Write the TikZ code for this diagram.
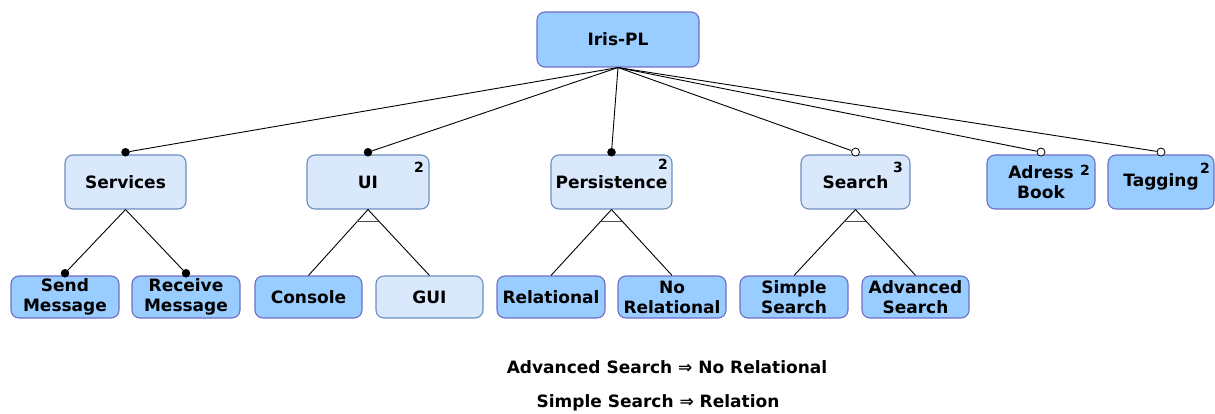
\documentclass[tikz,border=0pt]{standalone}
\usepackage{fontspec}
\setmainfont{DejaVu Sans}
\usetikzlibrary{calc,positioning}
\definecolor{darkfill}{HTML}{99CCFF}
\definecolor{darkdraw}{HTML}{6F6FC8}
\definecolor{lightfill}{HTML}{DAE8FC}
\definecolor{lightdraw}{HTML}{6C8EBF}
\tikzset{
  feat/.style={rounded corners=8pt, line width=1.1pt, align=center,
    font=\bfseries\fontsize{17}{20}\selectfont, inner sep=0pt},
  darkbox/.style={feat, fill=darkfill, draw=darkdraw},
  lightbox/.style={feat, fill=lightfill, draw=lightdraw},
  fdot/.style={circle, fill=black, draw=black, inner sep=0pt, minimum size=8pt},
  odot/.style={circle, fill=white, draw=black, line width=0.8pt, inner sep=0pt, minimum size=8pt},
  conn/.style={line width=0.9pt, black},
  altbar/.style={line width=1.8pt, black!70},
  card/.style={font=\bfseries\fontsize{14}{14}\selectfont, inner sep=0pt},
  cons/.style={font=\bfseries\fontsize{17}{20}\selectfont, inner sep=0pt},
}
\begin{document}
\begin{tikzpicture}[x=1pt,y=-1pt]
\useasboundingbox (0,0) rectangle (1215,414);
% root
\node[darkbox, minimum width=162pt, minimum height=55pt] (root) at (618,39.5) {Iris-PL};
% level 1
\node[lightbox, minimum width=121pt, minimum height=54pt] (services) at (125.5,182) {Services};
\node[lightbox, minimum width=122pt, minimum height=54pt] (ui) at (368,182) {UI};
\node[lightbox, minimum width=121pt, minimum height=54pt] (pers) at (611.5,182) {Persistence};
\node[lightbox, minimum width=109pt, minimum height=54pt] (search) at (855.5,182) {Search};
\node[darkbox, minimum width=108pt, minimum height=54pt] (adress) at (1041,182) {Adress\\Book};
\node[darkbox, minimum width=106pt, minimum height=54pt] (tagging) at (1161,182) {Tagging};
% cardinalities
\node[card] (cui) at (419,167) {2};
\node[card] (cpers) at (663,164) {2};
\node[card] (csearch) at (898,167) {3};
\node[card] (cadress) at (1085,170) {2};
\node[card] (ctag) at (1205,168) {2};
% level 2
\node[darkbox, minimum width=108pt, minimum height=42pt] (send) at (65,297) {Send\\Message};
\node[darkbox, minimum width=108pt, minimum height=42pt] (receive) at (186,297) {Receive\\Message};
\node[darkbox, minimum width=107pt, minimum height=42pt] (console) at (308.5,297) {Console};
\node[lightbox, minimum width=107pt, minimum height=42pt] (gui) at (429.5,297) {GUI};
\node[darkbox, minimum width=108pt, minimum height=42pt] (rel) at (551,297) {Relational};
\node[darkbox, minimum width=108pt, minimum height=42pt] (norel) at (672,297) {No\\Relational};
\node[darkbox, minimum width=108pt, minimum height=42pt] (simple) at (794,297) {Simple\\Search};
\node[darkbox, minimum width=107pt, minimum height=42pt] (adv) at (915.5,297) {Advanced\\Search};
% dots on level 1
\node[fdot, above=-2pt of services] (dserv) {};
\node[fdot, above=-2pt of ui] (dui) {};
\node[fdot, above=-2pt of pers] (dpers) {};
\node[odot, above=-2pt of search] (dsearch) {};
\node[odot, above=-2pt of adress] (dadress) {};
\node[odot, above=-2pt of tagging] (dtag) {};
% dots on services children
\node[fdot, above=-2pt of send] (dsend) {};
\node[fdot, above=-2pt of receive] (drecv) {};
% root connectors
\foreach \d in {dserv,dui,dpers,dsearch,dadress,dtag}
  \draw[conn] (root.south) -- (\d);
% services connectors
\draw[conn] (services.south) -- (dsend);
\draw[conn] (services.south) -- (drecv);
% alternative groups
\draw[conn] (ui.south) -- (console.north);
\draw[conn] (ui.south) -- (gui.north);
\draw[altbar] ($(ui.south)!0.18!(console.north)$) -- ($(ui.south)!0.18!(gui.north)$);
\draw[conn] (pers.south) -- (rel.north);
\draw[conn] (pers.south) -- (norel.north);
\draw[altbar] ($(pers.south)!0.18!(rel.north)$) -- ($(pers.south)!0.18!(norel.north)$);
\draw[conn] (search.south) -- (simple.north);
\draw[conn] (search.south) -- (adv.north);
\draw[altbar] ($(search.south)!0.18!(simple.north)$) -- ($(search.south)!0.18!(adv.north)$);
% constraints
\node[cons] (c1) at (667,367) {Advanced Search ⇒ No Relational};
\node[cons] (c2) at (658,403) {Simple Search ⇒ Relation};
\end{tikzpicture}
\end{document}
